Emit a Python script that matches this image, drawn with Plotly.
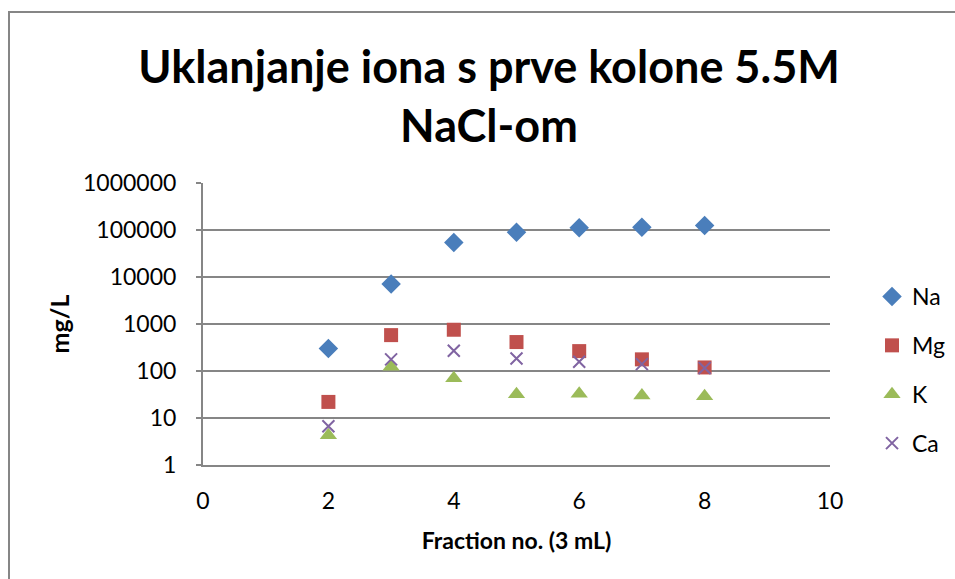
import plotly.graph_objects as go

fractions = [2, 3, 4, 5, 6, 7, 8]
na = [300, 7100, 54000, 90000, 111000, 115000, 125000]
mg = [22, 580, 755, 413, 265, 177, 119]
k = [4.3, 123, 70, 32, 33, 30, 29]
ca = [6.7, 177, 270, 185, 157, 140, 116]

series = [
    ("Na", na, "diamond", "#4A7EBB", 15),
    ("Mg", mg, "square", "#C0504D", 14),
    ("K", k, "triangle-up", "#9BBB59", 15),
    ("Ca", ca, "x-thin-open", "#8064A2", 12),
]

FONT = "Lato"
fig = go.Figure()
for i, (name, vals, sym, col, sz) in enumerate(series):
    marker = dict(symbol=sym, color=col, size=sz)
    if sym == "x-thin-open":
        marker["line"] = dict(color=col, width=2)
    else:
        marker["line"] = dict(width=0)
    fig.add_trace(go.Scatter(x=fractions, y=vals, mode="markers", name=name,
                             marker=marker, legendgroup=str(i)))

W, H = 955, 579
L, R, T, B = 203, 830, 183, 465
pw, ph = R - L, B - T

fig.update_layout(
    width=W, height=H,
    margin=dict(l=L, r=W - R, t=T, b=H - B),
    paper_bgcolor="white", plot_bgcolor="white",
    font=dict(family=FONT, color="black", size=23),
    title=dict(text="<b>Uklanjanje iona s prve kolone 5.5M<br>NaCl-om</b>",
               x=489 / W, xanchor="center", y=1 - 83 / H, yanchor="middle",
               yref="container", xref="container",
               font=dict(family=FONT, size=45, color="black")),
    xaxis=dict(range=[0, 10], dtick=2, tick0=0, showgrid=False, zeroline=False,
               showline=True, linecolor="#868686", linewidth=2, ticks="",
               tickfont=dict(size=23, family=FONT), ticklabelstandoff=14,
               title=dict(text="<b>Fraction no. (3 mL)</b>", font=dict(size=23, family=FONT), standoff=20)),
    yaxis=dict(type="log", range=[0, 6], dtick=1, showgrid=True, gridcolor="#868686", gridwidth=1.5,
               zeroline=False, showline=True, linecolor="#868686", linewidth=2,
               ticks="outside", ticklen=5, tickcolor="#868686", tickwidth=2,
               tickformat="d", ticklabelstandoff=15,
               tickfont=dict(size=23, family=FONT),
               title=dict(text="<b>mg/L</b>", font=dict(size=25, family=FONT), standoff=6)),
    legend=dict(xref="container", yref="container", x=872 / W, xanchor="left",
                y=1 - 370 / H, yanchor="middle",
                font=dict(size=23, family=FONT), tracegroupgap=16, itemwidth=30,
                bgcolor="rgba(0,0,0,0)"),
    showlegend=True,
    shapes=[dict(type="rect", xref="paper", yref="paper",
                 x0=(9 - L) / pw, x1=(W + 20 - L) / pw,
                 y0=(B - (H + 20)) / ph, y1=(B - 12) / ph,
                 line=dict(color="#868686", width=2), fillcolor="rgba(0,0,0,0)", layer="below")],
)

fig.write_html("out.html", config={"displayModeBar": False},
               post_script="document.body.style.margin='0';document.body.style.overflow='hidden';")
